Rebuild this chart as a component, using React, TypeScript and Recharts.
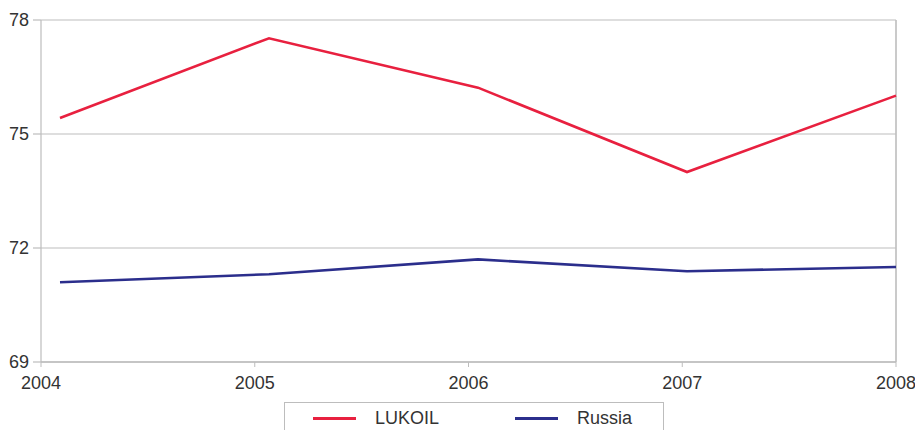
import React from 'react';
import {
    LineChart,
    Line,
    XAxis,
    YAxis,
    CartesianGrid,
    Legend,
    ReferenceLine
} from 'recharts';

const years = ['2004', '2005', '2006', '2007', '2008'];
const lukoil = [75.42, 77.52, 76.22, 74.0, 76.01];
const russia = [71.1, 71.31, 71.7, 71.39, 71.5];
const valueTicks = [69, 72, 75, 78];

const data = years.map((year, i) => ({
    year,
    LUKOIL: lukoil[i],
    Russia: russia[i]
}));

const FONT = '"Liberation Sans", Arial, sans-serif';
const GRID = '#bdbdbd';
const TEXT = '#333333';

const renderLegend = (props: any) => {
    const { payload } = props;
    const items = (payload || []).filter((p: any) => p.type !== 'none');
    return (
        <div
            style={{
                boxSizing: 'border-box',
                width: 380,
                height: 40,
                border: `1px solid ${GRID}`,
                background: '#fff',
                position: 'relative',
                fontFamily: FONT,
                fontSize: 18,
                color: TEXT
            }}
        >
            {items.map((entry: any, index: number) => (
                <div
                    key={`item-${index}`}
                    style={{
                        position: 'absolute',
                        left: index === 0 ? 28 : 230,
                        top: 4,
                        display: 'flex',
                        alignItems: 'center',
                        height: 22
                    }}
                >
                    <span style={{ display: 'inline-block', width: 43, height: 3, background: entry.color }} />
                    <span style={{ marginLeft: 19 }}>{entry.value}</span>
                </div>
            ))}
        </div>
    );
};

const App: React.FC = () => {
    return (
        <div style={{ position: 'absolute', left: 0, top: 0, background: '#fff' }}>
            <LineChart
                width={915}
                height={430}
                data={data}
                margin={{ top: 20, right: 19, bottom: 0, left: 0 }}
            >
                <CartesianGrid xAxisId="yr" vertical={false} stroke={GRID} strokeWidth={1.2} />
                <XAxis xAxisId="pts" dataKey="year" hide orientation="top" height={0} padding={{ left: 19, right: 0 }} />
                <XAxis
                    xAxisId="yr"
                    dataKey="year"
                    height={28}
                    tickSize={5}
                    tickMargin={9}
                    interval={0}
                    axisLine={{ stroke: GRID, strokeWidth: 1.6 }}
                    tickLine={{ stroke: GRID }}
                    tick={{ fill: TEXT, fontSize: 18, fontFamily: FONT }}
                />
                <YAxis
                    domain={[69, 78]}
                    ticks={valueTicks}
                    width={41}
                    tickSize={8}
                    tickMargin={4}
                    axisLine={{ stroke: GRID, strokeWidth: 1.2 }}
                    tickLine={{ stroke: GRID, strokeWidth: 1.2 }}
                    tick={{ fill: TEXT, fontSize: 18, fontFamily: FONT }}
                />
                <ReferenceLine xAxisId="yr" x="2008" stroke={GRID} strokeWidth={1.6} />
                <Legend
                    content={renderLegend}
                    verticalAlign="bottom"
                    wrapperStyle={{ left: 284, top: 402, width: 380, height: 40 }}
                />
                {/* invisible series so the tick axis gets its categories */}
                <Line
                    xAxisId="yr"
                    dataKey="Russia"
                    stroke="none"
                    dot={false}
                    activeDot={false}
                    legendType="none"
                    isAnimationActive={false}
                />
                <Line
                    xAxisId="pts"
                    type="linear"
                    dataKey="LUKOIL"
                    stroke="#e8203f"
                    strokeWidth={2.6}
                    dot={false}
                    isAnimationActive={false}
                />
                <Line
                    xAxisId="pts"
                    type="linear"
                    dataKey="Russia"
                    stroke="#2b2e8c"
                    strokeWidth={2.6}
                    dot={false}
                    isAnimationActive={false}
                />
            </LineChart>
        </div>
    );
};

export default App;
